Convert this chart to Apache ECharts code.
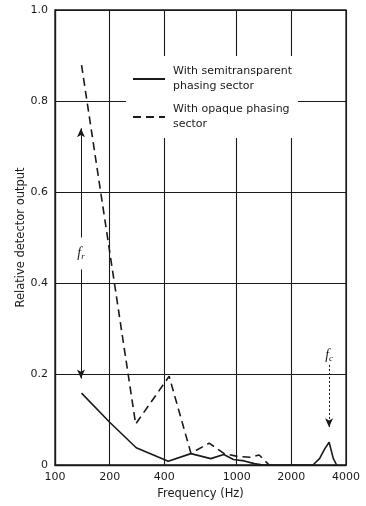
<!DOCTYPE html>
<html><head><meta charset="utf-8">
<script src="https://cdn.jsdelivr.net/npm/echarts@6/dist/echarts.min.js"></script>
<style>html,body{margin:0;padding:0;background:#fff}#c{width:366px;height:506px}</style>
</head><body><div id="c"></div>
<script>
// ---- data ----
const xTickValues = [100, 200, 400, 1000, 2000, 4000];
const semiFreq  = [140, 200, 280, 420, 560, 720, 850, 960, 1100, 1250, 1400, 2630, 2860, 3060, 3230, 3400, 3550];
const semiValue = [0.158, 0.094, 0.038, 0.008, 0.025, 0.014, 0.023, 0.012, 0.009, 0.003, 0, 0, 0.014, 0.036, 0.050, 0.015, 0];
const opaqueFreq  = [140, 278, 425, 560, 706, 854, 1010, 1200, 1330, 1510];
const opaqueValue = [0.879, 0.090, 0.195, 0.026, 0.048, 0.025, 0.019, 0.017, 0.022, 0];
const seriesNames = ['With semitransparent\nphasing sector', 'With opaque phasing\nsector'];
const frArrowFreq = 139, frArrowTop = 0.74, frGapTop = 0.50, frGapBottom = 0.43, frArrowBottom = 0.19, frLabelValue = 0.465;
const fcArrowFreq = 3228, fcArrowTop = 0.22, fcArrowBottom = 0.083, fcLabelValue = 0.24;

const ink = '#1a1a1a';
const font = 'DejaVu Sans, Liberation Sans, sans-serif';
const pairs = (xs, ys) => xs.map((x, i) => [x, ys[i]]);

const chart = echarts.init(document.getElementById('c'), null, {renderer: 'canvas'});
chart.setOption({
  backgroundColor: '#fff',
  animation: false,
  textStyle: {fontFamily: font, color: ink},
  grid: {left: 55, right: 20, top: 10, bottom: 41, show: true, borderColor: ink, borderWidth: 1.3, containLabel: false},
  legend: {
    left: 126, top: 56, orient: 'vertical',
    backgroundColor: '#fff', padding: [8, 6, 6, 6],
    itemWidth: 32, itemHeight: 10, itemGap: 8,
    selectedMode: false,
    itemStyle: {opacity: 0},
    textStyle: {fontFamily: font, fontSize: 11, color: ink, lineHeight: 15, padding: [0, 0, 0, 3]},
    data: seriesNames
  },
  xAxis: {
    type: 'log', logBase: 10, min: 100, max: 4000,
    name: 'Frequency (Hz)', nameLocation: 'middle', nameGap: 23, nameMoveOverlap: false,
    nameTextStyle: {fontSize: 11.5, color: ink, fontFamily: font},
    axisLine: {lineStyle: {color: ink, width: 1.3}},
    axisTick: {show: false, customValues: xTickValues},
    axisLabel: {customValues: xTickValues, fontSize: 11, color: ink, margin: 7, fontFamily: font, formatter: v => String(Math.round(v))},
    splitLine: {show: true, lineStyle: {color: ink, width: 1.1}},
    minorSplitLine: {show: false}
  },
  yAxis: {
    type: 'value', min: 0, max: 1, interval: 0.2,
    name: 'Relative detector output', nameLocation: 'middle', nameGap: 28, nameMoveOverlap: false,
    nameTextStyle: {fontSize: 11.5, color: ink, fontFamily: font},
    axisLine: {show: true, lineStyle: {color: ink, width: 1.3}},
    axisTick: {show: false},
    axisLabel: {fontSize: 11, color: ink, margin: 7, fontFamily: font, formatter: v => v === 0 ? '0' : v.toFixed(1)},
    splitLine: {show: true, lineStyle: {color: ink, width: 1.1}}
  },
  series: [
    {
      name: seriesNames[0], type: 'line', data: pairs(semiFreq, semiValue),
      symbol: 'none', smooth: false, z: 3,
      lineStyle: {color: ink, width: 1.6, type: 'solid'}, itemStyle: {color: ink},
      markLine: {
        silent: true, symbolSize: [6, 9], label: {show: false},
        lineStyle: {color: ink, width: 1, type: 'solid'},
        data: [
          [{coord: [frArrowFreq, frArrowTop], symbol: 'arrow'}, {coord: [frArrowFreq, frGapTop], symbol: 'none'}],
          [{coord: [frArrowFreq, frGapBottom], symbol: 'none'}, {coord: [frArrowFreq, frArrowBottom], symbol: 'arrow'}],
          [{coord: [fcArrowFreq, fcArrowTop], symbol: 'none', lineStyle: {type: [2, 2]}}, {coord: [fcArrowFreq, fcArrowBottom], symbol: 'arrow'}]
        ]
      },
      markPoint: {
        silent: true, symbol: 'circle', symbolSize: 0,
        label: {
          show: true, position: 'inside', formatter: p => p.name,
          rich: {
            i: {fontFamily: 'Liberation Serif, DejaVu Serif, serif', fontStyle: 'italic', fontSize: 14, color: ink},
            s: {fontFamily: 'Liberation Serif, DejaVu Serif, serif', fontStyle: 'italic', fontSize: 9, color: ink, verticalAlign: 'bottom', padding: [6, 0, 0, 0]}
          }
        },
        data: [
          {name: '{i|f}{s|r}', coord: [frArrowFreq, frLabelValue]},
          {name: '{i|f}{s|c}', coord: [fcArrowFreq, fcLabelValue]}
        ]
      }
    },
    {
      name: seriesNames[1], type: 'line', data: pairs(opaqueFreq, opaqueValue),
      symbol: 'none', smooth: false, z: 3,
      lineStyle: {color: ink, width: 1.6, type: [8, 5]}, itemStyle: {color: ink}
    }
  ]
});
</script></body></html>
